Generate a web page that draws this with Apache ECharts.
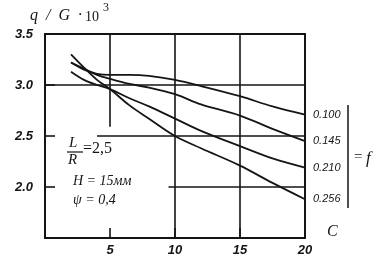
<!DOCTYPE html>
<html><head><meta charset="utf-8">
<script src="https://cdn.jsdelivr.net/npm/echarts@6/dist/echarts.min.js"></script>
<style>html,body{margin:0;padding:0;background:#fff}#c{width:385px;height:268px}</style>
</head><body><div id="c"></div>
<script>
// Data
var cValues = [2, 3, 4, 5, 6.5, 8, 10, 12, 15, 17.5, 20];
var fNames = ['0.100', '0.145', '0.210', '0.256'];
var q_f0100 = [3.22, 3.15, 3.11, 3.10, 3.10, 3.09, 3.05, 2.99, 2.89, 2.79, 2.71];
var q_f0145 = [3.22, 3.16, 3.10, 3.06, 3.01, 2.975, 2.91, 2.81, 2.70, 2.57, 2.45];
var q_f0210 = [3.13, 3.05, 3.00, 2.96, 2.87, 2.79, 2.67, 2.55, 2.40, 2.28, 2.19];
var q_f0256 = [3.30, 3.17, 3.05, 2.96, 2.80, 2.67, 2.50, 2.38, 2.21, 2.04, 1.88];
var xTicks = [5, 10, 15, 20];
var yTicks = ['2.0', '2.5', '3.0', '3.5'];
// reference lines of the printed grid (data units): [x1, y1, x2, y2]
var gridSegs = [
  [0, 3.0, 20, 3.0],
  [4.0, 2.5, 20, 2.5],
  [9.5, 2.0, 20, 2.0],
  [5, 3.5, 5, 2.59],
  [10, 3.5, 10, 1.5],
  [15, 3.5, 15, 1.5]
];

var ink = '#151515';
var chart = echarts.init(document.getElementById('c'));
var seriesData = [q_f0100, q_f0145, q_f0210, q_f0256];
var series = seriesData.map(function (vals, i) {
  var s = {
    type: 'line', name: fNames[i], smooth: 0.35, symbol: 'none',
    data: cValues.map(function (c, k) { return [c, vals[k]]; }),
    lineStyle: { color: ink, width: 1.8 },
    endLabel: { show: true, formatter: fNames[i], distance: 8,
      fontFamily: 'Liberation Sans', fontStyle: 'italic', fontSize: 11, color: ink },
    z: 3
  };
  if (i === 0) {
    s.markLine = {
      silent: true, symbol: ['none', 'none'], label: { show: false },
      lineStyle: { color: ink, width: 1.6, type: 'solid' },
      data: gridSegs.map(function (g) { return [{ coord: [g[0], g[1]] }, { coord: [g[2], g[3]] }]; })
    };
  }
  return s;
});

var tf = 'Liberation Serif';
chart.setOption({
  animation: false,
  grid: { left: 45, top: 34, width: 260, height: 204, show: true, borderColor: ink, borderWidth: 2 },
  xAxis: {
    type: 'value', min: 0, max: 20, interval: 5,
    axisLine: { show: false },
    axisTick: { show: true, inside: true, length: 10, lineStyle: { color: ink, width: 1.6 } },
    splitLine: { show: false },
    axisLabel: { margin: 6, color: ink, fontFamily: 'Liberation Sans', fontStyle: 'italic', fontWeight: 'bold', fontSize: 13,
      formatter: function (v) { return xTicks.indexOf(v) >= 0 ? String(v) : ''; } }
  },
  yAxis: {
    type: 'value', min: 1.5, max: 3.5, interval: 0.5,
    axisLine: { show: false },
    axisTick: { show: true, inside: true, length: 10, lineStyle: { color: ink, width: 1.6 } },
    splitLine: { show: false },
    axisLabel: { margin: 12, color: ink, fontFamily: 'Liberation Sans', fontStyle: 'italic', fontWeight: 'bold', fontSize: 13,
      formatter: function (v) { var t = v.toFixed(1); return yTicks.indexOf(t) >= 0 ? t : ''; } }
  },
  graphic: [
    { type: 'text', left: 30, top: 8, style: { text: 'q  /  G  ·', font: 'italic 16px ' + tf, fill: ink } },
    { type: 'text', left: 85, top: 10, style: { text: '10', font: '14px ' + tf, fill: ink } },
    { type: 'text', left: 103, top: 2, style: { text: '3', font: '12px ' + tf, fill: ink } },
    { type: 'text', left: 327, top: 224, style: { text: 'C', font: 'italic 16px ' + tf, fill: ink } },
    { type: 'text', left: 69, top: 136, style: { text: 'L', font: 'italic 15px ' + tf, fill: ink } },
    { type: 'line', shape: { x1: 67, y1: 152, x2: 83, y2: 152 }, style: { stroke: ink, lineWidth: 1.2 } },
    { type: 'text', left: 68, top: 153, style: { text: 'R', font: 'italic 15px ' + tf, fill: ink } },
    { type: 'text', left: 83, top: 141, style: { text: '=2,5', font: '16px ' + tf, fill: ink } },
    { type: 'text', left: 73, top: 174, style: { text: 'H = 15мм', font: 'italic 14px ' + tf, fill: ink } },
    { type: 'text', left: 73, top: 193, style: { text: 'ψ = 0,4', font: 'italic 14px ' + tf, fill: ink } },
    { type: 'line', shape: { x1: 348, y1: 105, x2: 348, y2: 208 }, style: { stroke: ink, lineWidth: 1.5 } },
    { type: 'text', left: 354, top: 150, style: { text: '=', font: '15px ' + tf, fill: ink } },
    { type: 'text', left: 366, top: 150, style: { text: 'f', font: 'italic 17px ' + tf, fill: ink } }
  ],
  series: series
});
</script></body></html>
